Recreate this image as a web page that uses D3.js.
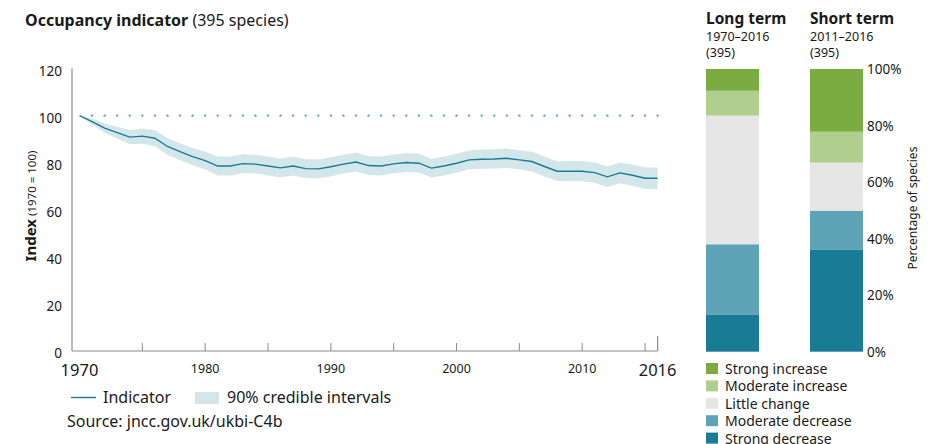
<!DOCTYPE html>
<html>
<head>
<meta charset="utf-8">
<script src="https://cdn.jsdelivr.net/npm/d3@7"></script>
<style>
  body { margin: 0; background: #fff; }
  svg { font-family: "Noto Sans", "Open Sans", sans-serif; }
</style>
</head>
<body>
<svg id="chart" width="928" height="444"></svg>
<script>
// occupancy index, 1970 = 100
var years = d3.range(1970, 2017);
var indexValues = [100, 97.5, 94.7, 92.8, 90.9, 91.3, 90.4, 86.9, 84.7, 82.6, 80.9,
  78.6, 78.6, 79.6, 79.4, 78.6, 77.8, 78.6, 77.5, 77.4, 78.3,
  79.4, 80.3, 78.8, 78.6, 79.5, 80.1, 79.8, 77.7, 78.6, 79.8,
  81.2, 81.5, 81.6, 81.9, 81.2, 80.5, 78.4, 76.4, 76.4, 76.4,
  75.8, 74.0, 75.7, 74.7, 73.4, 73.4];
var lowerCI = [100, 96.2, 92.7, 90.3, 87.9, 88.1, 87.0, 83.4, 81.1, 78.9, 77.1,
  74.6, 74.6, 75.6, 75.4, 74.6, 73.8, 74.6, 73.5, 73.4, 74.3,
  75.4, 76.3, 74.8, 74.6, 75.5, 76.1, 75.8, 73.7, 74.6, 75.8,
  77.2, 77.4, 77.5, 77.8, 77.1, 76.3, 74.2, 72.2, 72.1, 72.1,
  71.5, 69.6, 71.3, 70.2, 68.8, 68.8];
var upperCI = [100, 98.8, 96.7, 95.3, 93.9, 94.5, 93.8, 90.4, 88.3, 86.3, 84.7,
  82.6, 82.6, 83.6, 83.4, 82.6, 81.8, 82.6, 81.5, 81.4, 82.3,
  83.4, 84.3, 82.8, 82.6, 83.5, 84.1, 83.8, 81.7, 82.6, 83.8,
  85.2, 85.6, 85.7, 86.0, 85.3, 84.7, 82.6, 80.6, 80.7, 80.7,
  80.1, 78.4, 80.1, 79.2, 78.0, 78.0];
var yTicks = [0, 20, 40, 60, 80, 100, 120];
var xTicks = [1975, 1980, 1985, 1990, 1995, 2000, 2005, 2010, 2015];
var xLabels = [1980, 1990, 2000, 2010];

// bar categories (bottom to top) and percentages of species
var categories = ["Strong decrease", "Moderate decrease", "Little change", "Moderate increase", "Strong increase"];
var catColors = ["#1a7b94", "#5ea3b6", "#e6e6e6", "#b0cf8f", "#7aac42"];
var longTerm = [13.0, 25.0, 45.5, 8.8, 7.7];
var shortTerm = [36.0, 13.9, 17.0, 10.9, 22.2];
var pctTicks = [0, 20, 40, 60, 80, 100];

var svg = d3.select("#chart");
var lineCol = "#1a7b94";
var txt = "#1a1a1a";

// ---- line chart ----
var x = d3.scaleLinear().domain([1970, 2016]).range([79.5, 657.6]);
var y = d3.scaleLinear().domain([0, 120]).range([351, 68.6]);

var data = years.map(function(d, i) {
  return {year: d, value: indexValues[i], lo: lowerCI[i], hi: upperCI[i]};
});

svg.append("text").attr("x", 25).attr("y", 26)
  .style("font-size", "16px").style("fill", txt)
  .call(function(t) {
    t.append("tspan").style("font-weight", "bold").text("Occupancy indicator");
    t.append("tspan").text(" (395 species)");
  });

svg.append("path")
  .datum(data)
  .attr("fill", "#d3e6ea")
  .attr("d", d3.area().x(function(d) { return x(d.year); })
    .y0(function(d) { return y(d.lo); }).y1(function(d) { return y(d.hi); }));

// dotted reference line at 100
svg.append("g").selectAll("circle")
  .data(years.slice(1))
  .join("circle")
  .attr("cx", function(d) { return x(d); })
  .attr("cy", y(100))
  .attr("r", 1.3)
  .attr("fill", "#7ab8c8");

svg.append("path")
  .datum(data)
  .attr("fill", "none")
  .attr("stroke", lineCol)
  .attr("stroke-width", 1.4)
  .attr("d", d3.line().x(function(d) { return x(d.year); }).y(function(d) { return y(d.value); }));

// axes
var axisCol = "#8c8c8c";
svg.append("line").attr("x1", 72).attr("x2", 72).attr("y1", y(120)).attr("y2", y(0))
  .attr("stroke", axisCol).attr("stroke-width", 1.2);
svg.append("line").attr("x1", 72).attr("x2", x(2016)).attr("y1", y(0)).attr("y2", y(0))
  .attr("stroke", axisCol).attr("stroke-width", 1.2);
svg.append("g").selectAll("line")
  .data(xTicks)
  .join("line")
  .attr("x1", function(d) { return x(d); }).attr("x2", function(d) { return x(d); })
  .attr("y1", y(0)).attr("y2", y(0) - 8)
  .attr("stroke", axisCol).attr("stroke-width", 1);
svg.append("line").attr("x1", x(2016)).attr("x2", x(2016)).attr("y1", y(0)).attr("y2", y(0) - 15)
  .attr("stroke", axisCol).attr("stroke-width", 1.2);

svg.append("g").selectAll("text")
  .data(yTicks)
  .join("text")
  .attr("x", 62).attr("y", function(d) { return y(d) + 7; })
  .attr("text-anchor", "end")
  .style("font-size", "13.5px").style("fill", txt)
  .text(function(d) { return d; });

svg.append("g").selectAll("text")
  .data(xLabels)
  .join("text")
  .attr("x", function(d) { return x(d); }).attr("y", 373)
  .attr("text-anchor", "middle")
  .style("font-size", "12.5px").style("fill", txt)
  .text(function(d) { return d; });

[1970, 2016].forEach(function(d) {
  svg.append("text").attr("x", x(d)).attr("y", 376)
    .attr("text-anchor", "middle")
    .style("font-size", "16.5px").style("fill", txt)
    .text(d);
});

svg.append("text")
  .attr("transform", "translate(36,206) rotate(-90)")
  .attr("text-anchor", "middle")
  .style("fill", txt)
  .call(function(t) {
    t.append("tspan").style("font-weight", "bold").style("font-size", "15px").text("Index");
    t.append("tspan").style("font-size", "11.5px").text(" (1970 = 100)");
  });

// legend for line chart
svg.append("line").attr("x1", 71).attr("x2", 96).attr("y1", 397.5).attr("y2", 397.5)
  .attr("stroke", lineCol).attr("stroke-width", 1.4);
svg.append("text").attr("x", 103).attr("y", 403)
  .style("font-size", "16px").style("fill", txt).text("Indicator");
svg.append("rect").attr("x", 195).attr("y", 392).attr("width", 24).attr("height", 12)
  .attr("fill", "#d3e6ea");
svg.append("text").attr("x", 227).attr("y", 403)
  .style("font-size", "16px").style("fill", txt).text("90% credible intervals");
svg.append("text").attr("x", 67).attr("y", 427)
  .style("font-size", "16px").style("fill", txt).text("Source: jncc.gov.uk/ukbi-C4b");

// ---- stacked bars ----
var py = d3.scaleLinear().domain([0, 100]).range([351.7, 69]);
var bars = [
  {title: "Long term", period: "1970–2016", n: "(395)", x: 706, values: longTerm},
  {title: "Short term", period: "2011–2016", n: "(395)", x: 810, values: shortTerm}
];
var barW = 53;

bars.forEach(function(b) {
  var stack = [];
  var cum = 0;
  b.values.forEach(function(v, i) {
    stack.push({y0: cum, y1: cum + v, color: catColors[i]});
    cum += v;
  });
  svg.append("g").selectAll("rect")
    .data(stack)
    .join("rect")
    .attr("x", b.x).attr("width", barW)
    .attr("y", function(d) { return py(Math.min(d.y1, 100)); })
    .attr("height", function(d) { return py(d.y0) - py(Math.min(d.y1, 100)); })
    .attr("fill", function(d) { return d.color; });

  svg.append("text").attr("x", b.x).attr("y", 24)
    .style("font-size", "15.5px").style("font-weight", "bold").style("fill", txt).text(b.title);
  svg.append("text").attr("x", b.x).attr("y", 41)
    .style("font-size", "12.5px").style("fill", txt).text(b.period);
  svg.append("text").attr("x", b.x).attr("y", 57)
    .style("font-size", "12.5px").style("fill", txt).text(b.n);
});

svg.append("g").selectAll("text")
  .data(pctTicks)
  .join("text")
  .attr("x", 867).attr("y", function(d) { return py(d) + 5; })
  .style("font-size", "13.5px").style("fill", txt)
  .text(function(d) { return d + "%"; });

svg.append("text")
  .attr("transform", "translate(917,208) rotate(-90)")
  .attr("text-anchor", "middle")
  .style("font-size", "12px").style("fill", txt)
  .text("Percentage of species");

// legend for categories, top to bottom
var legendItems = categories.map(function(c, i) { return {name: c, color: catColors[i]}; }).reverse();
var lg = svg.append("g").selectAll("g")
  .data(legendItems)
  .join("g")
  .attr("transform", function(d, i) { return "translate(706," + (363 + i * 17.4) + ")"; });
lg.append("rect").attr("width", 12).attr("height", 11).attr("fill", function(d) { return d.color; });
lg.append("text").attr("x", 19).attr("y", 11)
  .style("font-size", "14px").style("fill", txt)
  .text(function(d) { return d.name; });
</script>
</body>
</html>
